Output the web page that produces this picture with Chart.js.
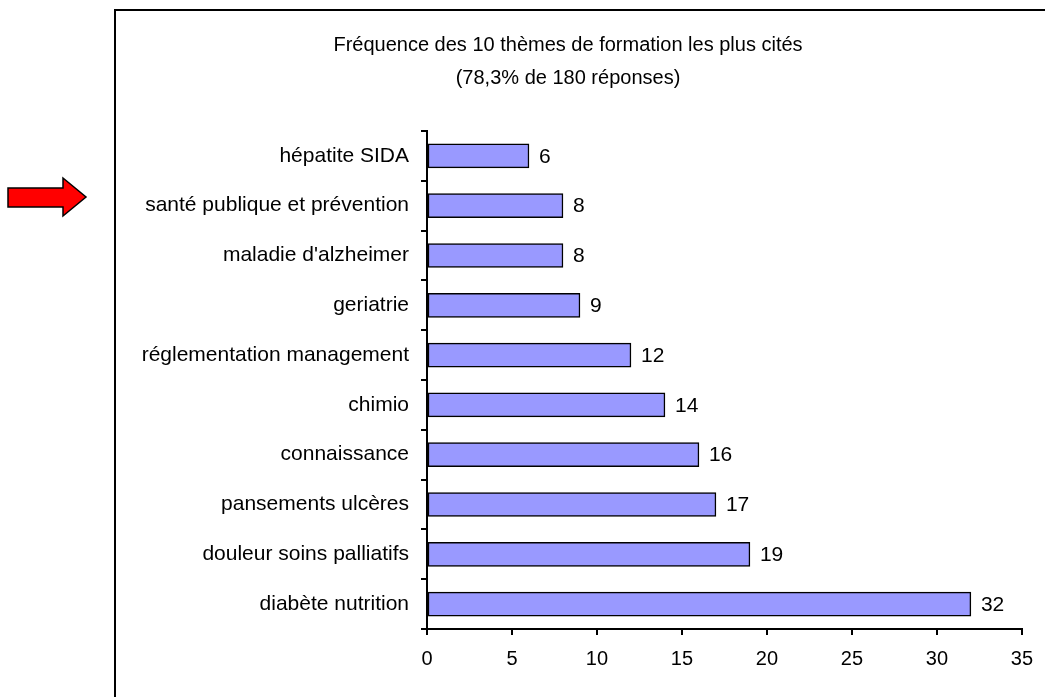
<!DOCTYPE html>
<html><head><meta charset="utf-8">
<script src="https://cdn.jsdelivr.net/npm/chart.js@4"></script>
<style>
html,body{margin:0;padding:0;background:#fff;overflow:hidden}
canvas{display:block}
</style></head><body>
<canvas id="c" width="1045" height="697"></canvas>
<script>
const categories = ["hépatite SIDA","santé publique et prévention","maladie d'alzheimer","geriatrie","réglementation management","chimio","connaissance","pansements ulcères","douleur soins palliatifs","diabète nutrition"];
const values = [6,8,8,9,12,14,16,17,19,32];
const xTicks = [0,5,10,15,20,25,30,35];
const titleLines = ["Fréquence des 10 thèmes de formation les plus cités","(78,3% de 180 réponses)"];

const FONT = "'Liberation Sans', Arial, sans-serif";
const FS = 20;
const FSL = 21;

const decor = {
  id:'decor',
  beforeDraw(chart){
    const ctx = chart.ctx;
    ctx.save();
    ctx.fillStyle='#fff'; ctx.fillRect(0,0,chart.width,chart.height);
    ctx.strokeStyle='#000'; ctx.lineWidth=2;
    ctx.strokeRect(115,10,1100,800);
    ctx.beginPath();
    ctx.moveTo(8,188); ctx.lineTo(63,188); ctx.lineTo(63,178); ctx.lineTo(86,197);
    ctx.lineTo(63,216); ctx.lineTo(63,207); ctx.lineTo(8,207); ctx.closePath();
    ctx.fillStyle='#ff0000'; ctx.fill();
    ctx.lineWidth=1.5; ctx.strokeStyle='#000'; ctx.stroke();
    ctx.restore();
  },
  afterDraw(chart){
    const ctx = chart.ctx;
    ctx.save();
    ctx.fillStyle='#000';
    ctx.font = FS+'px '+FONT;
    ctx.textAlign='center'; ctx.textBaseline='middle';
    ctx.fillText(titleLines[0],568,45);
    ctx.fillText(titleLines[1],568,78);
    ctx.font = FSL+'px '+FONT;
    const meta = chart.getDatasetMeta(0);
    ctx.textAlign='left';
    meta.data.forEach((bar,i)=>{
      ctx.fillText(String(values[i]), bar.x+10, bar.y+1);
    });
    ctx.restore();
  }
};

new Chart(document.getElementById('c'),{
  type:'bar',
  data:{labels:categories,datasets:[{data:values,backgroundColor:'#9999FF',borderColor:'#000',borderWidth:1.5,borderSkipped:false,barThickness:24}]},
  options:{
    indexAxis:'y',responsive:false,devicePixelRatio:1,animation:false,
    layout:{padding:{left:0,top:131,right:23,bottom:0}},
    plugins:{legend:{display:false},tooltip:{enabled:false},title:{display:false}},
    scales:{
      x:{min:0,max:35,
        afterBuildTicks(s){s.ticks=xTicks.map(v=>({value:v}));},
        afterFit(s){s.height=68;},
        grid:{drawOnChartArea:false,tickLength:6,color:'#000',lineWidth:2},
        border:{display:true,color:'#000',width:2},
        ticks:{color:'#000',font:{family:FONT,size:FS},padding:12,maxRotation:0}
      },
      y:{
        afterFit(s){s.width=427;},
        grid:{drawOnChartArea:false,tickLength:6,color:'#000',lineWidth:2,offset:true},
        border:{display:true,color:'#000',width:2},
        ticks:{color:'#000',font:{family:FONT,size:FSL},padding:12}
      }
    }
  },
  plugins:[decor]
});
</script>
</body></html>
